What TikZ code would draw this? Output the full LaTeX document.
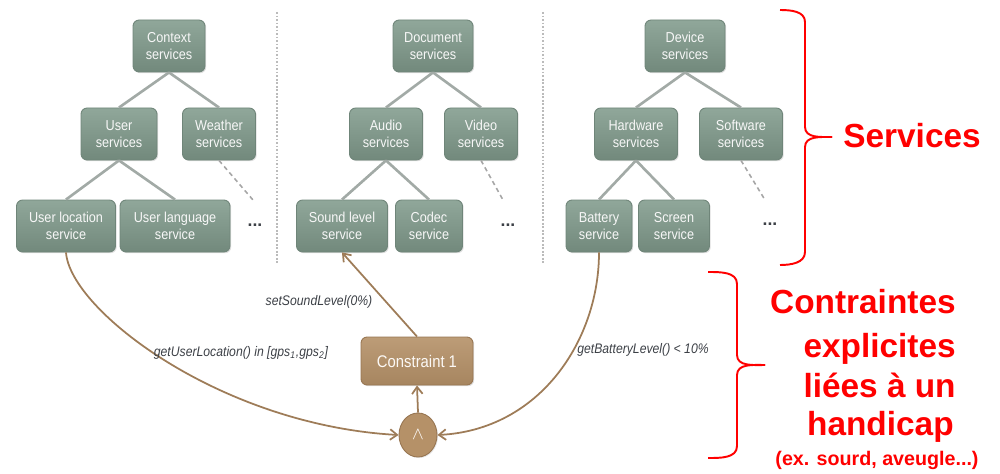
\documentclass[tikz,border=0pt]{standalone}
\usepackage{fontspec}
\setmainfont{Liberation Sans}
\newfontfamily\nodefont[FakeStretch=0.88]{Liberation Sans}
\usetikzlibrary{arrows.meta,shapes.geometric,shadows}
\definecolor{sage}{HTML}{80968A}
\definecolor{sagetop}{HTML}{90A79A}
\definecolor{sagebot}{HTML}{72897C}
\definecolor{sageedge}{HTML}{6F8579}
\definecolor{treeline}{HTML}{A2AAA6}
\definecolor{brownfill}{HTML}{B59168}
\definecolor{brownedge}{HTML}{977551}
\definecolor{brownline}{HTML}{9E7C58}
\definecolor{labelgray}{HTML}{3C4046}
\definecolor{sepgray}{HTML}{BBBBBB}
\definecolor{pured}{HTML}{FF0000}
\tikzset{
  svc/.style={draw=sageedge, line width=0.5pt, rounded corners=3.5pt,
    top color=sagetop, bottom color=sagebot, text=white!94!gray,
    minimum width=#1*0.02cm, minimum height=52*0.02cm, inner sep=1pt,
    align=center, font=\nodefont\fontsize{8.2}{10}\selectfont,
    drop shadow={opacity=0.25, shadow xshift=0.7pt, shadow yshift=-0.7pt}},
  treeedge/.style={draw=treeline, line width=1.5pt},
  dashedge/.style={draw=gray!70, line width=0.9pt, dashed, dash pattern=on 2.5pt off 2pt},
  sep/.style={draw=sepgray, line width=1pt, dash pattern=on 1pt off 1pt},
  dotsnode/.style={text=labelgray, font=\fontsize{10}{11}\selectfont\bfseries},
  brownarrow/.style={draw=brownline, line width=1pt, -{Straight Barb[length=4pt,width=6pt]}},
  lbl/.style={text=labelgray, font=\nodefont\fontsize{7.9}{9}\selectfont\itshape},
  redline/.style={draw=pured, line width=1.1pt},
  redbig/.style={text=pured, font=\fontsize{19}{23}\selectfont\bfseries, inner sep=0pt},
}
\begin{document}
\begin{tikzpicture}[x=0.02cm, y=-0.02cm]
\useasboundingbox (0,0) rectangle (1000,473);
% separators
\coordinate (s1t) at (277,12); \coordinate (s1b) at (277,265);
\coordinate (s2t) at (543,12); \coordinate (s2b) at (543,265);
\draw[sep] (s1t) -- (s1b);
\draw[sep] (s2t) -- (s2b);
% tree edges (drawn first, under the boxes)
\coordinate (ctxS) at (169,72); \coordinate (usrS) at (119,160);
\coordinate (docS) at (433,72); \coordinate (audS) at (386,160);
\coordinate (devS) at (685,72); \coordinate (hwS) at (636,160);
% tree 1
\node[svc=72] (ctx) at (169,46) {Context\\services};
\node[svc=76] (usr) at (119,134) {User\\services};
\node[svc=73] (wea) at (219,134) {Weather\\services};
\node[svc=99] (uloc) at (66,226) {User location\\service};
\node[svc=110] (ulang) at (175,226) {User language\\service};
% tree 2
\node[svc=80] (doc) at (433,46) {Document\\services};
\node[svc=73] (aud) at (386,134) {Audio\\services};
\node[svc=73] (vid) at (481,134) {Video\\services};
\node[svc=91] (snd) at (342,226) {Sound level\\service};
\node[svc=67] (cod) at (429,226) {Codec\\service};
% tree 3
\node[svc=80] (dev) at (685,46) {Device\\services};
\node[svc=83] (hw) at (636,134) {Hardware\\services};
\node[svc=83] (sw) at (741,134) {Software\\services};
\node[svc=66] (bat) at (599,226) {Battery\\service};
\node[svc=71] (scr) at (674,226) {Screen\\service};
\draw[treeedge] (ctx.south) -- (usr.north);
\draw[treeedge] (ctx.south) -- (wea.north);
\draw[treeedge] (usr.south) -- (uloc.north);
\draw[treeedge] (usr.south) -- (ulang.north);
\draw[treeedge] (doc.south) -- (aud.north);
\draw[treeedge] (doc.south) -- (vid.north);
\draw[treeedge] (aud.south) -- (snd.north);
\draw[treeedge] (aud.south) -- (cod.north);
\draw[treeedge] (dev.south) -- (hw.north);
\draw[treeedge] (dev.south) -- (sw.north);
\draw[treeedge] (hw.south) -- (bat.north);
\draw[treeedge] (hw.south) -- (scr.north);
% dashed continuations
\coordinate (wend) at (253,200);
\coordinate (vend) at (503,200);
\coordinate (send) at (765,200);
\draw[dashedge] (wea.south) -- (wend);
\draw[dashedge] (vid.south) -- (vend);
\draw[dashedge] (sw.south) -- (send);
\node[dotsnode] (d1) at (255,225) {...};
\node[dotsnode] (d2) at (508,225) {...};
\node[dotsnode] (d3) at (770,224) {...};
% constraint part
\node[draw=brownedge, line width=0.5pt, rounded corners=3.5pt,
  top color=brownfill!90!white, bottom color=brownfill!92!black, text=white!95!brown,
  minimum width=112*0.02cm, minimum height=48*0.02cm,
  font=\nodefont\fontsize{9.6}{11}\selectfont,
  drop shadow={opacity=0.25, shadow xshift=0.7pt, shadow yshift=-0.7pt}] (c1) at (417,361) {Constraint 1};
\node[ellipse, draw=brownedge, line width=0.5pt, fill=brownfill, text=white,
  minimum width=38*0.02cm, minimum height=44*0.02cm, inner sep=0pt,
  drop shadow={opacity=0.2, shadow xshift=0.6pt, shadow yshift=-0.6pt}] (and) at (418,435) {$\wedge$};
\draw[brownarrow] (c1.north) -- (snd.south);
\draw[brownarrow] (and.north) -- (c1.south);
\draw[brownarrow] (uloc.south) .. controls (70,310) and (220,425) .. (and.west);
\draw[brownarrow] (bat.south) .. controls (599,340) and (540,430) .. (and.east);
\node[lbl] (l1) at (319,302) {setSoundLevel(0\%)};
\node[lbl] (l2) at (241,353) {getUserLocation() in [gps\textsubscript{1},gps\textsubscript{2}]};
\node[lbl] (l3) at (643,350) {getBatteryLevel() < 10\%};
% red braces
\coordinate (b1a) at (780,10); \coordinate (b1b) at (805,22);
\coordinate (b1c) at (805,127); \coordinate (b1t) at (832,137);
\coordinate (b1d) at (805,147); \coordinate (b1e) at (805,252);
\coordinate (b1f) at (780,265);
\draw[redline] (b1a) to[out=0,in=90] (b1b) -- (b1c) to[out=-90,in=180] (b1t);
\draw[redline] (b1t) to[out=180,in=90] (b1d) -- (b1e) to[out=-90,in=0] (b1f);
\coordinate (b2a) at (708,272); \coordinate (b2b) at (737,284);
\coordinate (b2c) at (737,355); \coordinate (b2t) at (765,365);
\coordinate (b2d) at (737,375); \coordinate (b2e) at (737,446);
\coordinate (b2f) at (708,458);
\draw[redline] (b2a) to[out=0,in=90] (b2b) -- (b2c) to[out=-90,in=180] (b2t);
\draw[redline] (b2t) to[out=180,in=90] (b2d) -- (b2e) to[out=-90,in=0] (b2f);
% red texts
\node[redbig, anchor=base west] (tserv) at (843,147) {Services};
\node[redbig, anchor=base east] (tc1) at (956,313) {Contraintes};
\node[redbig, anchor=base east] (tc2) at (956,357) {explicites};
\node[redbig, anchor=base east] (tc3) at (956,397) {liées à un};
\node[redbig, anchor=base east] (tc4) at (954,435) {handicap};
\node[text=pured, font=\fontsize{11.2}{13}\selectfont\bfseries, inner sep=0pt, anchor=base] (tc5) at (877,465) {(ex. sourd, aveugle...)};
\end{tikzpicture}
\end{document}
